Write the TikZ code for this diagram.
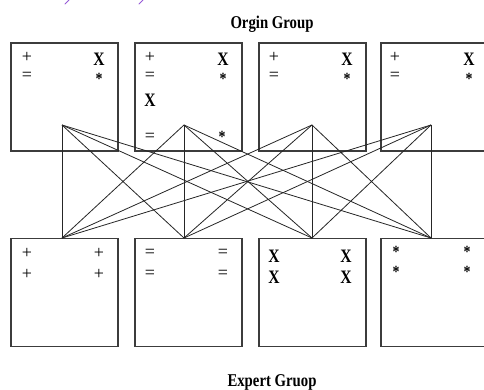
\documentclass[tikz,border=0pt]{standalone}
\usepackage{fontspec}
\setmainfont{Liberation Serif}
\definecolor{boxline}{RGB}{60,60,60}
\definecolor{ink}{RGB}{150,90,215}
\tikzset{
  group/.style={draw=boxline, line width=1.2pt, minimum width=107pt, minimum height=108pt, inner sep=0pt},
  link/.style={draw=black!85, line width=0.8pt},
  sym/.style={inner sep=0pt, font=\fontsize{18}{18}\selectfont},
  bsym/.style={inner sep=0pt, font=\fontsize{19}{19}\selectfont\bfseries},
  ast/.style={inner sep=0pt, font=\fontsize{17}{17}\selectfont\bfseries},
  pair/.style={inner sep=0pt, align=center, anchor=base, font=\fontsize{18}{18}\selectfont},
  bpair/.style={inner sep=0pt, align=center, anchor=base, font=\fontsize{19}{19.5}\selectfont\bfseries},
  title/.style={inner sep=0pt, font=\fontsize{18}{18}\selectfont\bfseries}
}
\newcommand{\sq}[1]{\scalebox{0.82}[1]{#1}}
\newcommand{\smallast}{{\fontsize{17}{19.5}\selectfont\sq{*}}}
\begin{document}
\begin{tikzpicture}[x=1pt,y=-1pt]
\clip (0,0) rectangle (484,390);
\fill[white] (0,0) rectangle (484,390);

% handwriting fragments cut at the top edge
\draw[ink, line width=1pt, line cap=round] (65,4) -- (69,0);
\draw[ink, line width=1pt, line cap=round] (139,4) -- (143,0);

% titles
\node[title] (orig) at (272,24) {\sq{Orgin Group}};
\node[title] (expt) at (272,382) {\sq{Expert Gruop}};

% origin group boxes
\node[group] (o1) at (64.5,97) {};
\node[group] (o2) at (188.5,97) {};
\node[group] (o3) at (312.5,97) {};
\node[group] (o4) at (434.5,97) {};

% expert group boxes
\node[group] (e1) at (64.5,292.5) {};
\node[group] (e2) at (188.5,292.5) {};
\node[group] (e3) at (312.5,292.5) {};
\node[group] (e4) at (434.5,292.5) {};

% contents of the origin boxes: "+ over =" on the left, "X over *" on the right
% (the base anchor of a two-line node sits on its last line)
\foreach \i/\xl/\xr in {1/27/99, 2/150/223, 3/274/347, 4/395/469}{
  \node[pair]  (ol\i) at (\xl,81) {+\\=};
  \node[bpair] (or\i) at (\xr,85) {\sq{X}\\\smallast};
}
\node[bsym] (ox2b) at (150,100) {\sq{X}};
\node[sym]  (oe2b) at (150,137) {=};
\node[ast]  (oa2b) at (222,137) {\sq{*}};

% contents of the expert boxes
\foreach \y/\r in {253/a, 274/b}{
  \node[sym] (e1l\r) at (27,\y) {+};
  \node[sym] (e1r\r) at (99,\y) {+};
  \node[sym] (e2l\r) at (150,\y) {=};
  \node[sym] (e2r\r) at (223,\y) {=};
}
\foreach \y/\r in {256/a, 277/b}{
  \node[bsym] (e3l\r) at (274,\y) {\sq{X}};
  \node[bsym] (e3r\r) at (346,\y) {\sq{X}};
}
\foreach \y/\r in {252/a, 272/b}{
  \node[ast] (e4l\r) at (396,\y) {\sq{*}};
  \node[ast] (e4r\r) at (467,\y) {\sq{*}};
}

% meeting points
\foreach \i/\x in {1/62, 2/184, 3/312, 4/431}{
  \coordinate (s\i) at (\x,125);
  \coordinate (d\i) at (\x,238);
}

% every origin point joined to every expert point
\foreach \i in {1,...,4}{
  \foreach \j in {1,...,4}{
    \draw[link] (s\i) -- (d\j);
  }
}
\end{tikzpicture}
\end{document}
